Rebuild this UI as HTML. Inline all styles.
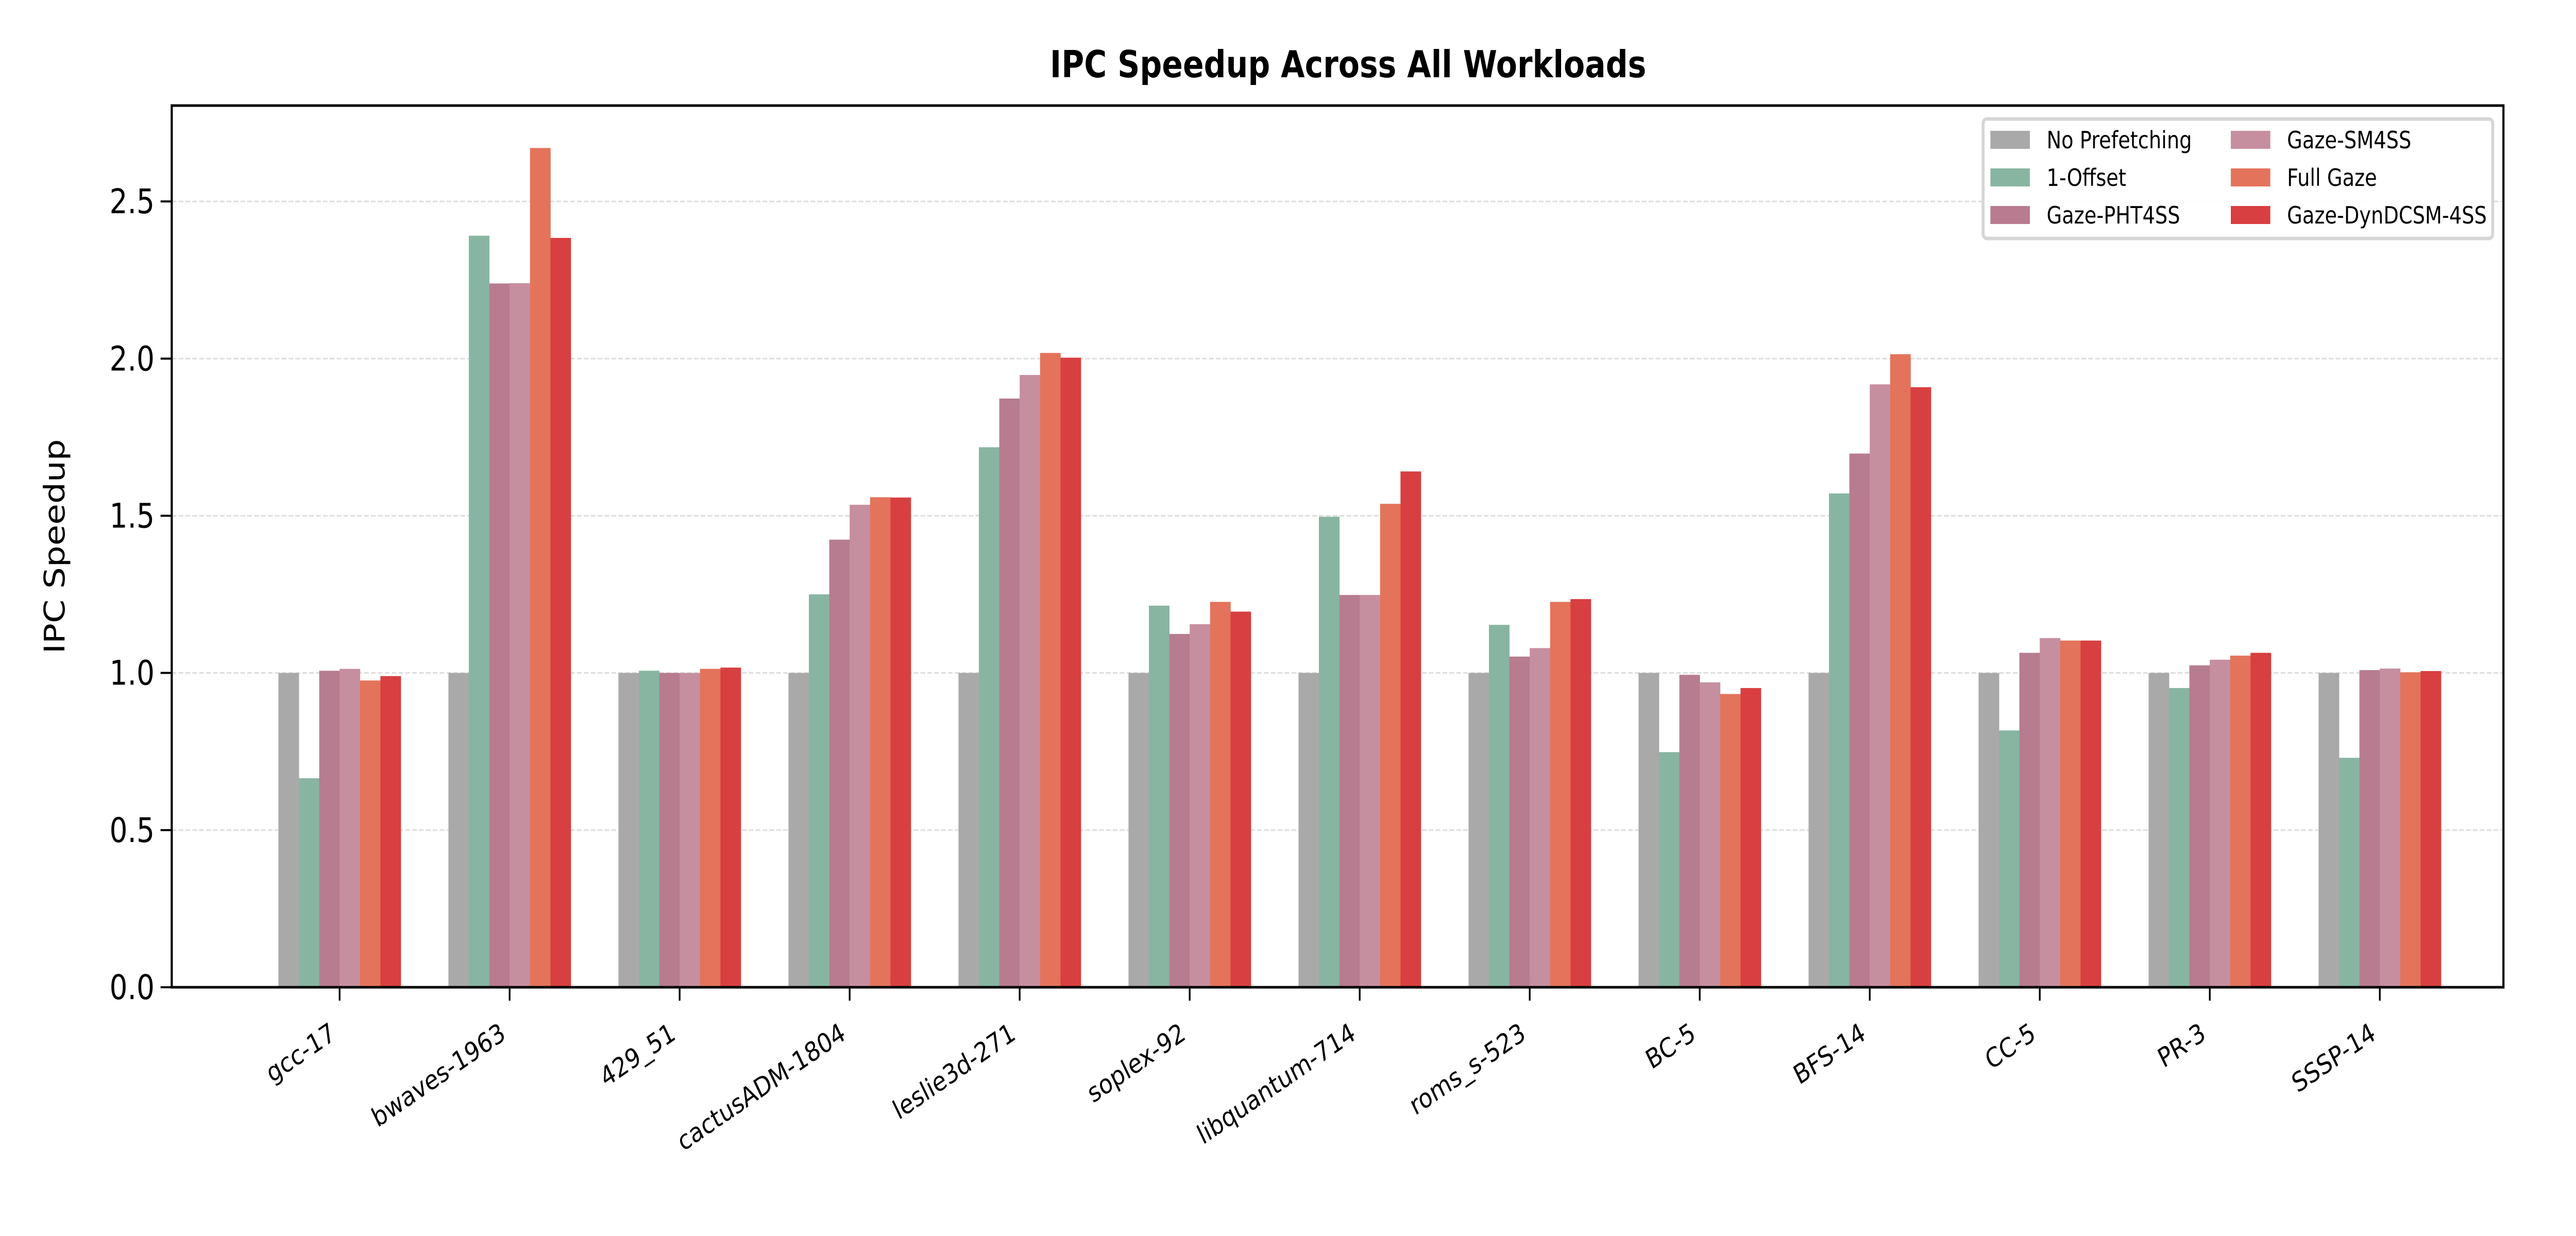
<!DOCTYPE html>
<html><head><meta charset="utf-8"><style>
html,body{margin:0;padding:0;background:#fff;width:100%;height:100%;overflow:hidden;}
svg{display:block;width:100vw;height:100vh;font-family:"DejaVu Sans","Liberation Sans",sans-serif;}
</style></head><body>
<svg id="chart" viewBox="0 0 6000 2400" preserveAspectRatio="none" xmlns="http://www.w3.org/2000/svg">
<rect x="0" y="0" width="6000" height="2400" fill="#fff"/>
<text x="3140" y="150" text-anchor="middle" font-size="72" font-weight="bold" fill="#000">IPC Speedup Across All Workloads</text>
<text x="0" y="0" transform="translate(150,1061) rotate(-90)" text-anchor="middle" font-size="66" fill="#000">IPC Speedup</text>
<g id="grid"></g><g id="bars"></g><g id="axes"></g><g id="legend"></g>
</svg>
<script>
const categories = ["gcc-17","bwaves-1963","429_51","cactusADM-1804","leslie3d-271","soplex-92","libquantum-714","roms_s-523","BC-5","BFS-14","CC-5","PR-3","SSSP-14"];
const seriesNames = ["No Prefetching","1-Offset","Gaze-PHT4SS","Gaze-SM4SS","Full Gaze","Gaze-DynDCSM-4SS"];
const noPrefetching = [1,1,1,1,1,1,1,1,1,1,1,1,1];
const oneOffset   = [0.665,2.391,1.007,1.25,1.718,1.214,1.497,1.153,0.748,1.571,0.817,0.952,0.730];
const gazePHT4SS  = [1.007,2.239,1.0,1.424,1.873,1.124,1.248,1.052,0.994,1.698,1.064,1.024,1.009];
const gazeSM4SS   = [1.013,2.240,1.0,1.535,1.948,1.155,1.248,1.079,0.970,1.918,1.111,1.042,1.014];
const fullGaze    = [0.976,2.670,1.013,1.559,2.018,1.226,1.538,1.226,0.933,2.014,1.103,1.055,1.002];
const gazeDyn     = [0.990,2.384,1.017,1.558,2.003,1.195,1.641,1.235,0.952,1.909,1.103,1.064,1.006];
const yTicks = [0.0,0.5,1.0,1.5,2.0,2.5];
const yTickLabels = ["0.0","0.5","1.0","1.5","2.0","2.5"];
const series = [noPrefetching,oneOffset,gazePHT4SS,gazeSM4SS,fullGaze,gazeDyn];
const colors = ["#a9a9a9","#88b5a1","#b77c8f","#c68fa0","#e4735b","#d83f40"];

const NS="http://www.w3.org/2000/svg";
const L=400,R=5831,T=205,B=1917,YMAX=2.805;
const step=396,c0=791,bw=47.5;
function yS(v){return B-(v/YMAX)*(B-T);}
function xS(i){return c0+i*step;}
function mk(tag,attrs,parent){const e=document.createElementNS(NS,tag);for(const k in attrs)e.setAttribute(k,attrs[k]);parent.appendChild(e);return e;}
const grid=document.getElementById('grid'),bars=document.getElementById('bars'),axes=document.getElementById('axes'),leg=document.getElementById('legend');

yTicks.forEach((t,i)=>{
  const y=yS(t);
  if(t>0){const g=mk('line',{x1:L,x2:R,y1:y,y2:y,stroke:'#dddddd','stroke-width':3,'stroke-dasharray':'11 5'},grid);
  
  }
  const tk=mk('line',{x1:L-26,x2:L,y1:y,y2:y,stroke:'#000','stroke-width':4},axes);
  
  
  const lb=mk('text',{x:L-40,y:y+23,'text-anchor':'end','font-size':66,fill:'#000'},axes);
  lb.textContent=yTickLabels[i];
  
  
});

categories.forEach((c,i)=>{
  const cx=xS(i);
  series.forEach((s,j)=>{
    const x=cx+(j-3)*bw;
    const r=mk('rect',{x:x,y:yS(s[i]),width:bw+0.5,height:B-yS(s[i]),fill:colors[j]},bars);
    
    
  });
  const tk=mk('line',{x1:cx,x2:cx,y1:B,y2:B+26,stroke:'#000','stroke-width':4},axes);
  
  
  const lb=mk('text',{x:0,y:0,transform:'translate('+(cx-6)+',2016) rotate(-30)','text-anchor':'end','font-size':52,fill:'#000'},axes);
  lb.textContent=c;
  
  
});

const frame=mk('rect',{x:L,y:T,width:R-L,height:B-T,fill:'none',stroke:'#000','stroke-width':5},axes);



const box=mk('rect',{x:4619,y:231,width:1187,height:232,rx:9,fill:'#fff','fill-opacity':0.9,stroke:'#d6d6d6','stroke-width':7},leg);


const colX=[4636,5196],rowY=[271,344,417];
seriesNames.forEach((n,j)=>{
  const col=Math.floor(j/3),row=j%3;
  const g=mk('g',{},leg);
  
  
  mk('rect',{x:colX[col],y:rowY[row]-17,width:92,height:35,fill:colors[j]},g);
  const t=mk('text',{x:colX[col]+131,y:rowY[row]+17,'font-size':46,fill:'#000'},g);
  t.textContent=n;
});
</script>
</body></html>
